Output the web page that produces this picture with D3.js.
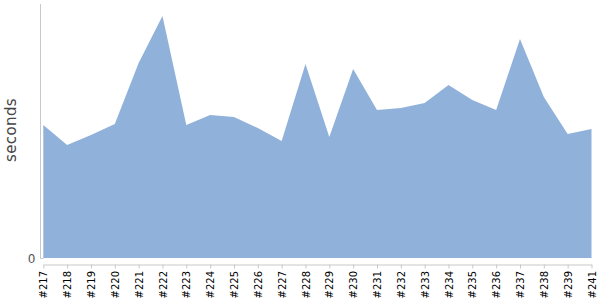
<!DOCTYPE html>
<html>
<head>
<meta charset="utf-8">
<script src="https://cdn.jsdelivr.net/npm/d3@7"></script>
<style>
  html, body { margin: 0; padding: 0; background: #fff; }
  svg { display: block; }
</style>
</head>
<body>
<svg id="chart" width="600" height="300"></svg>
<script>
const builds = ["#217","#218","#219","#220","#221","#222","#223","#224","#225","#226","#227","#228",
                "#229","#230","#231","#232","#233","#234","#235","#236","#237","#238","#239","#241"];
const seconds = [133,113,123,134,195,242,133,143,141,130,117,194,
                 121,189,148,150,155,173,158,148,219,161,124,129];
const yTickValues = [0];

const svg = d3.select("#chart");
const plotLeft = 43.3, plotRight = 591.5, plotTop = 4, plotBottom = 258;

const x = d3.scalePoint().domain(builds).range([plotLeft, plotRight]);
const y = d3.scaleLinear().domain([0, d3.max(seconds) * 1.05]).range([plotBottom, plotTop]);

const data = builds.map((b, i) => ({ b, v: seconds[i] }));

const area = d3.area()
  .x(d => x(d.b))
  .y0(y(0))
  .y1(d => y(d.v))
  .curve(d3.curveLinear);

svg.append("path")
  .datum(data)
  .attr("d", area)
  .attr("fill", "#90b1da");

// y axis
const yAxis = svg.append("g").attr("transform", "translate(40.5,0)")
  .call(d3.axisLeft(y).tickValues(yTickValues).tickSize(0).tickSizeOuter(0).tickPadding(5));
yAxis.select(".domain").attr("stroke", "#c8c8c8").attr("d", `M3,${plotBottom + 0.5}H0V${plotTop}`);
yAxis.selectAll("text").attr("font-family", "DejaVu Sans, sans-serif").attr("font-size", 12)
  .attr("fill", "#555").attr("dy", "0.4em");

// x axis
const xAxis = svg.append("g").attr("transform", "translate(0,264.5)")
  .call(d3.axisBottom(x).tickSize(4).tickSizeOuter(0));
xAxis.select(".domain").attr("stroke", "#c8c8c8");
xAxis.selectAll(".tick line").attr("stroke", "#c8c8c8");
xAxis.selectAll("text")
  .attr("font-family", "DejaVu Sans, sans-serif")
  .attr("font-size", 10)
  .attr("fill", "#000")
  .attr("transform", "rotate(-90)")
  .attr("x", -6.5)
  .attr("y", 0)
  .attr("dy", "0.36em")
  .style("text-anchor", "end");

// y label
svg.append("text")
  .attr("transform", "translate(16,130) rotate(-90)")
  .attr("text-anchor", "middle")
  .attr("font-family", "DejaVu Sans, sans-serif")
  .attr("font-size", 15)
  .attr("letter-spacing", 0.4)
  .attr("fill", "#444")
  .text("seconds");
</script>
</body>
</html>
